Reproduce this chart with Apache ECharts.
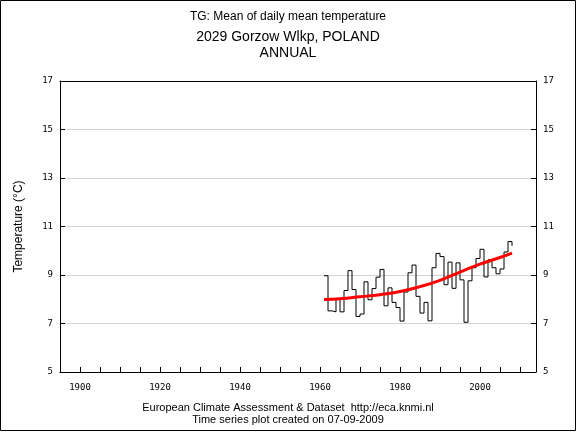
<!DOCTYPE html>
<html><head><meta charset="utf-8">
<script src="https://cdn.jsdelivr.net/npm/echarts@6/dist/echarts.min.js"></script>
<style>html,body{margin:0;padding:0;background:#fff}#c{width:576px;height:432px}</style>
</head><body><div id="c"></div>
<script>
// Annual mean temperature (TG), 2029 Gorzow Wlkp, Poland
const years = [1961,1962,1963,1964,1965,1966,1967,1968,1969,1970,
               1971,1972,1973,1974,1975,1976,1977,1978,1979,1980,
               1981,1982,1983,1984,1985,1986,1987,1988,1989,1990,
               1991,1992,1993,1994,1995,1996,1997,1998,1999,2000,
               2001,2002,2003,2004,2005,2006,2007,2008];
const tgValues = [8.97,7.52,7.48,8.01,7.48,8.36,9.18,8.40,7.29,7.39,
                  8.72,7.98,8.44,8.91,9.23,7.73,8.47,7.87,7.66,7.10,
                  8.30,9.09,9.41,8.12,7.43,7.87,7.11,9.30,9.89,9.76,
                  8.60,9.53,8.45,9.50,8.80,7.05,8.76,9.30,9.68,10.06,
                  8.92,9.63,9.30,9.05,9.25,9.95,10.38,10.20];
const trendYears = [1961,1965,1970,1975,1980,1985,1990,1995,2000,2005,2008];
const trendValues = [7.99,8.02,8.10,8.19,8.32,8.52,8.78,9.12,9.45,9.72,9.90];
const xTickValues = [1900,1905,1910,1915,1920,1925,1930,1935,1940,1945,1950,1955,
                     1960,1965,1970,1975,1980,1985,1990,1995,2000,2005,2010];
const xLabelValues = [1900,1920,1940,1960,1980,2000];
const yTickValues = [7,9,11,13,15];
const yLabelValues = [5,7,9,11,13,15,17];

const tgData = years.map((y,i)=>[y,tgValues[i]]);
const trendData = trendYears.map((y,i)=>[y,trendValues[i]]);

const labelFont = 'DejaVu Sans Mono';
const chart = echarts.init(document.getElementById('c'), null, {renderer:'canvas'});
const black = '#000';
chart.setOption({
  animation:false,
  backgroundColor:'#fff',
  grid:{left:60,right:40,top:81,bottom:60,show:false},
  xAxis:[{
    type:'value',min:1895,max:2014,position:'bottom',
    axisLine:{show:true,lineStyle:{color:black,width:1}},
    axisTick:{show:true,inside:true,length:5,customValues:xTickValues,lineStyle:{color:black}},
    axisLabel:{customValues:xLabelValues,color:black,fontSize:9,margin:11,fontFamily:labelFont,
               formatter:v=>String(v)},
    splitLine:{show:false}
  },{
    type:'value',min:1895,max:2014,position:'top',
    axisLine:{show:true,lineStyle:{color:black,width:1}},
    axisTick:{show:false},axisLabel:{show:false},splitLine:{show:false}
  }],
  yAxis:[{
    type:'value',min:5,max:17,position:'left',
    axisLine:{show:true,lineStyle:{color:black,width:1}},
    axisTick:{show:true,inside:true,length:5,customValues:yTickValues,lineStyle:{color:black}},
    axisLabel:{customValues:yLabelValues,color:black,fontSize:9,margin:7,fontFamily:labelFont},
    splitLine:{show:true,lineStyle:{color:'#d4d4d4',width:1}},
    name:'Temperature (°C)',nameLocation:'middle',nameGap:35,nameRotate:90,
    nameTextStyle:{color:black,fontSize:12,fontFamily:'Liberation Sans'}
  },{
    type:'value',min:5,max:17,position:'right',
    axisLine:{show:true,lineStyle:{color:black,width:1}},
    axisTick:{show:true,inside:true,length:5,customValues:yTickValues,lineStyle:{color:black}},
    axisLabel:{customValues:yLabelValues,color:black,fontSize:9,margin:7,fontFamily:labelFont},
    splitLine:{show:false}
  }],
  series:[{
    type:'line',data:tgData,step:'end',showSymbol:false,symbol:'none',
    lineStyle:{color:black,width:1},z:2
  },{
    type:'line',data:trendData,smooth:true,showSymbol:false,symbol:'none',
    lineStyle:{color:'#ff0000',width:3},z:3
  }],
  graphic:[
    {type:'rect',shape:{x:0.5,y:0.5,width:575,height:430},style:{fill:null,stroke:black,lineWidth:1},silent:true},
    {type:'text',x:288,y:17,style:{text:'TG: Mean of daily mean temperature',align:'center',verticalAlign:'middle',font:'12px "Liberation Sans"',fill:black}},
    {type:'text',x:288,y:37,style:{text:'2029 Gorzow Wlkp, POLAND',align:'center',verticalAlign:'middle',font:'14px "Liberation Sans"',fill:black}},
    {type:'text',x:288,y:53,style:{text:'ANNUAL',align:'center',verticalAlign:'middle',font:'14px "Liberation Sans"',fill:black}},
    {type:'text',x:288,y:408,style:{text:'European Climate Assessment & Dataset  http://eca.knmi.nl',align:'center',verticalAlign:'middle',font:'11px "Liberation Sans"',fill:black}},
    {type:'text',x:288,y:420,style:{text:'Time series plot created on 07-09-2009',align:'center',verticalAlign:'middle',font:'11px "Liberation Sans"',fill:black}}
  ]
});
</script></body></html>
